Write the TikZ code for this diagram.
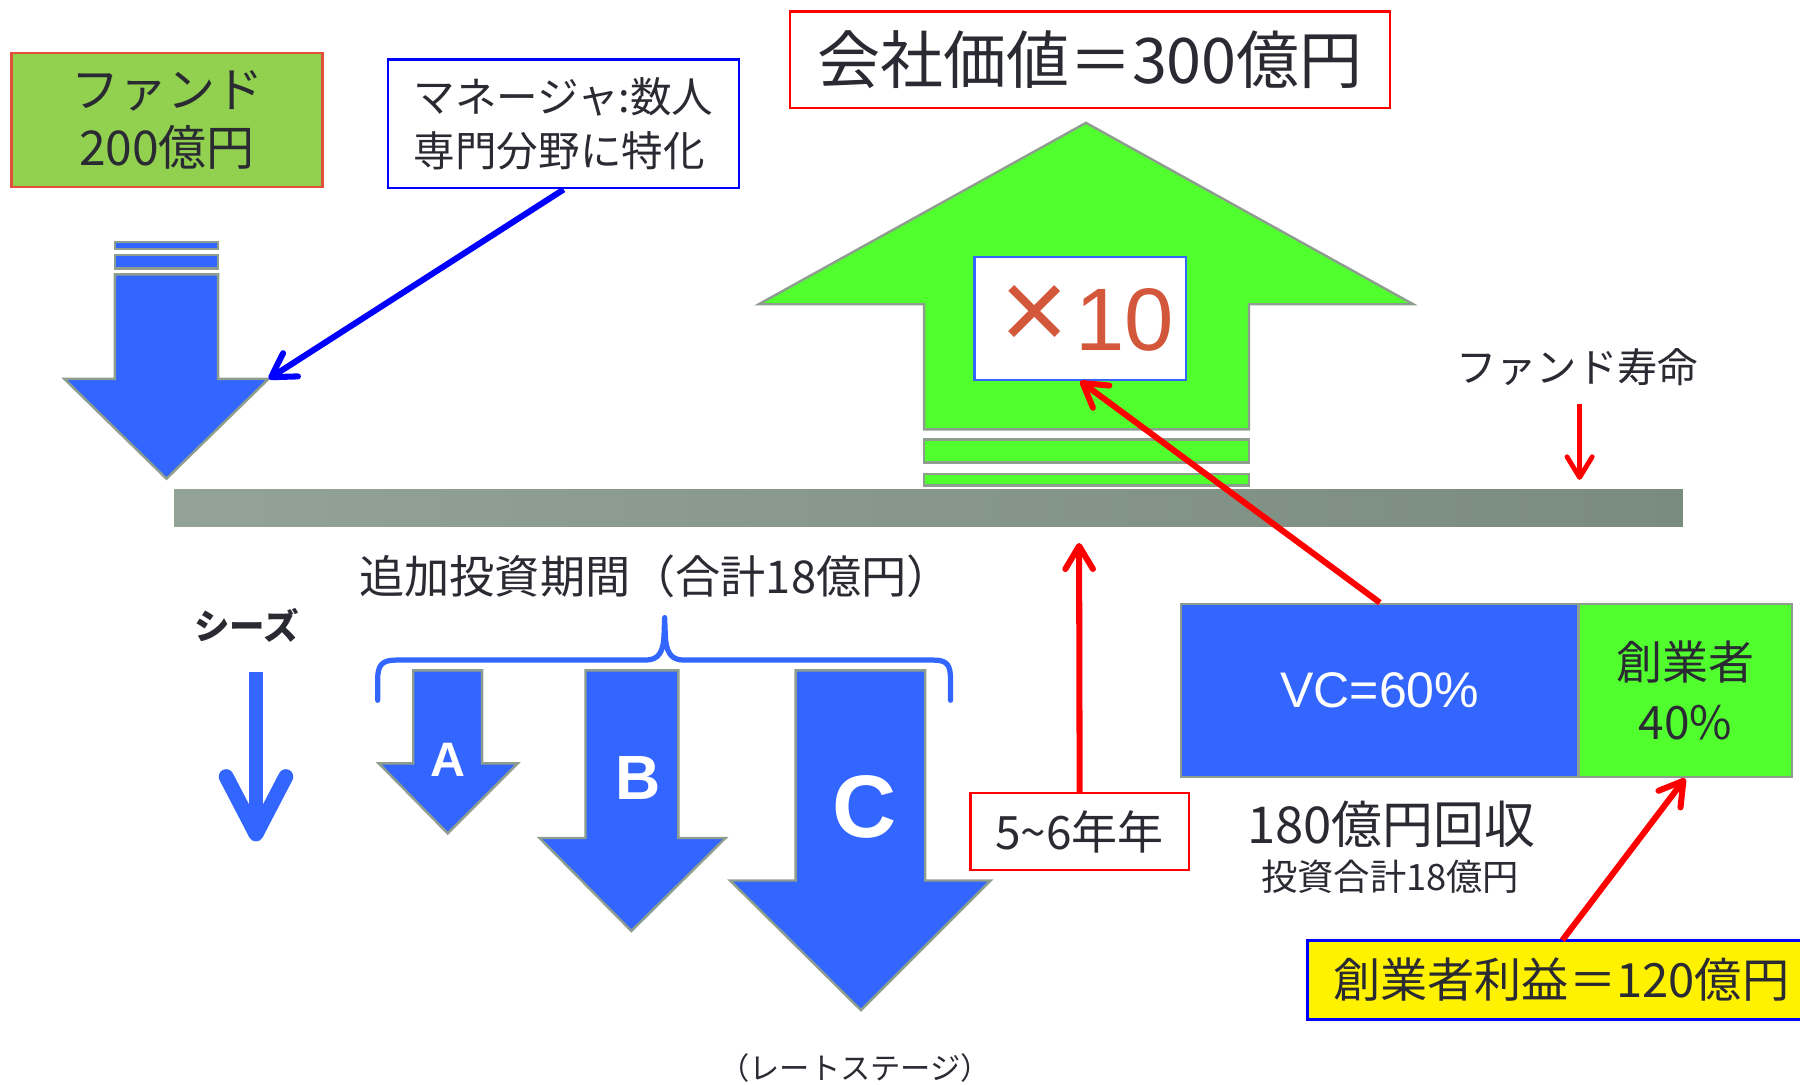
\documentclass[tikz,border=0pt]{standalone}
\usepackage{fontspec}
\setmainfont{Noto Sans CJK JP}
\newfontfamily\latinfont{Liberation Sans}
\usetikzlibrary{arrows.meta}

\definecolor{boxBlue}{HTML}{3366FF}
\definecolor{boxGreen}{HTML}{52FF2E}
\definecolor{fundGreen}{HTML}{92D050}
\definecolor{fundEdge}{HTML}{E0503A}
\definecolor{edgeGray}{HTML}{8E9E8E}
\definecolor{barLeft}{HTML}{93A396}
\definecolor{barRight}{HTML}{7A8B7F}
\definecolor{inkDark}{HTML}{2A2A33}
\definecolor{timesRed}{HTML}{D3573B}

\begin{document}
\begin{tikzpicture}
[x=0.1mm,y=-0.1mm,
  boxDecorate/.style={shape=rectangle,inner sep=0pt,draw,line width=0.6pt,text=inkDark},%
  textDecorate/.style={inner sep=0pt,text=inkDark},%
  blockDecorate/.style={fill=boxBlue,draw=edgeGray,line width=0.6pt},%
  lineDecorate/.style={line width=1.5pt,-{Straight Barb[round,length=2mm,width=2.4mm]}},%
  letterDecorate/.style={inner sep=0pt,text=white}]
\useasboundingbox (0,0) rectangle (1568,945);
\clip (0,0) rectangle (1568,945);
%% boxes
\node (fund) at (145.5,104.5) [boxDecorate,draw=fundEdge,fill=fundGreen,
  minimum width=27.1mm,minimum height=11.7mm,align=center,
  font=\fontsize{11.9}{14.4}\selectfont] {ファンド\\200億円};
\node (manager) at (491,108) [boxDecorate,draw=blue,fill=white,
  minimum width=30.6mm,minimum height=11.2mm,align=left,
  font=\fontsize{10.3}{13.4}\selectfont] {マネージャ:数人\\専門分野に特化};
\node (title) at (949.5,52) [boxDecorate,draw=red,fill=white,
  minimum width=52.3mm,minimum height=8.4mm,
  font=\fontsize{15.6}{18}\selectfont] {会社価値＝300億円};
%% growth arrow
\draw[blockDecorate,fill=boxGreen] (805,374) -- (805,265) -- (661,265) -- (946,107)
  -- (1231,265) -- (1088,265) -- (1088,374) -- cycle;
\foreach \top/\bot in {383/403, 413/423}
{
  \draw[blockDecorate,fill=boxGreen] (805,\top) rectangle (1088,\bot);
}
\node (times) at (941,277.5) [boxDecorate,draw=boxBlue,fill=white,text=timesRed,
  minimum width=18.4mm,minimum height=10.7mm,
  font=\latinfont\fontsize{22}{26}\selectfont]
  {\hspace{1.2mm}{\fontsize{29}{29}\selectfont ×}\hspace{0.6mm}10};
%% fund arrow
\foreach \top/\bot in {211/217, 222/234}
{
  \draw[blockDecorate] (100,\top) rectangle (190,\bot);
}
\draw[blockDecorate] (100,239) -- (190,239) -- (190,330) -- (234,330) -- (145,417)
  -- (56,330) -- (100,330) -- cycle;
\coordinate (fundHead) at (234,330);
%% fund life bar
\shade[left color=barLeft,right color=barRight] (152,426) rectangle (1466,459);
\node (life) at (1374,320) [textDecorate,font=\fontsize{10}{12}\selectfont] {ファンド寿命};
\coordinate (lifeTop) at (1376,352);
\coordinate (lifeEnd) at (1376,418);
%% investments
\node (seeds) at (215,545) [textDecorate,font=\bfseries\fontsize{8.8}{10}\selectfont] {シーズ};
\coordinate (seedsTop) at (223,585);
\coordinate (seedsEnd) at (223,733);
\node (period) at (571,502) [textDecorate,font=\fontsize{11.2}{13}\selectfont] {追加投資期間（合計18億円）};
\draw[boxBlue,line width=1.3pt,line join=round,line cap=round]
  (329,610) -- (329,592) .. controls (329,579) and (333,575) .. (345,575)
  -- (562,575) .. controls (574,575) and (578,568) .. (578.5,552) -- (579,538)
  -- (579.5,552) .. controls (580,568) and (584,575) .. (596,575)
  -- (813,575) .. controls (825,575) and (828,579) .. (828,592) -- (828,610);
\foreach \name/\sl/\sr/\hb/\hl/\hr/\tx/\ty/\lx/\ly/\size in {
  A/360/420/665/330/451/390/726/390/662/12,
  B/510/591/730/470/632/550/811/556/678/15.5,
  C/693/806/767/636/863/750/880/753/703/22}
{
  \draw[blockDecorate] (\sl,584) -- (\sr,584) -- (\sr,\hb) -- (\hr,\hb) -- (\tx,\ty)
    -- (\hl,\hb) -- (\sl,\hb) -- cycle;
  \node (round\name) at (\lx,\ly) [letterDecorate,
    font=\latinfont\bfseries\fontsize{\size}{\size}\selectfont] {\name};
}
\node (late) at (745,930) [textDecorate,font=\fontsize{7.5}{9}\selectfont] {（レートステージ）};
%% exit
\node (years) at (940.5,724.5) [boxDecorate,draw=red,fill=white,
  minimum width=19mm,minimum height=6.7mm,
  font=\fontsize{11.4}{13}\selectfont] {5\textasciitilde6年年};
\coordinate (yearsEnd) at (940,473);
\node (vc) at (1202,601.5) [boxDecorate,draw=edgeGray,fill=boxBlue,text=white,
  minimum width=34.6mm,minimum height=15.1mm,
  font=\latinfont\fontsize{12.4}{14}\selectfont] {VC=60\%};
\node (founder) at (1468,601.5) [boxDecorate,draw=edgeGray,fill=boxGreen,
  minimum width=18.6mm,minimum height=15.1mm,align=center,
  font=\fontsize{11.4}{14.8}\selectfont] {創業者\\40\%};
\node (recover) at (1212,718) [textDecorate,font=\fontsize{12.6}{14}\selectfont] {180億円回収};
\node (invest) at (1211,764) [textDecorate,font=\fontsize{9}{11}\selectfont] {投資合計18億円};
\node (profit) at (1360,853.5) [boxDecorate,draw=blue,fill=yellow,line width=0.8pt,
  minimum width=44.2mm,minimum height=6.9mm,
  font=\fontsize{11.7}{14}\selectfont] {創業者利益＝120億円};
\coordinate (profitTop) at (1361,819);
%% connectors
\draw[blue,lineDecorate] (manager.south) -- (fundHead);
\draw[red,lineDecorate] (vc.north) -- (times.south);
\draw[red,lineDecorate] (years.north) -- (yearsEnd);
\draw[red,lineDecorate] (profitTop) -- (founder.south);
\draw[red,line width=1.2pt,-{Straight Barb[round,length=1.8mm,width=2.2mm]}] (lifeTop) -- (lifeEnd);
\draw[boxBlue,line width=3.7pt,-{Straight Barb[round,length=5mm,width=5.2mm]}] (seedsTop) -- (seedsEnd);
\end{tikzpicture}
\end{document}
